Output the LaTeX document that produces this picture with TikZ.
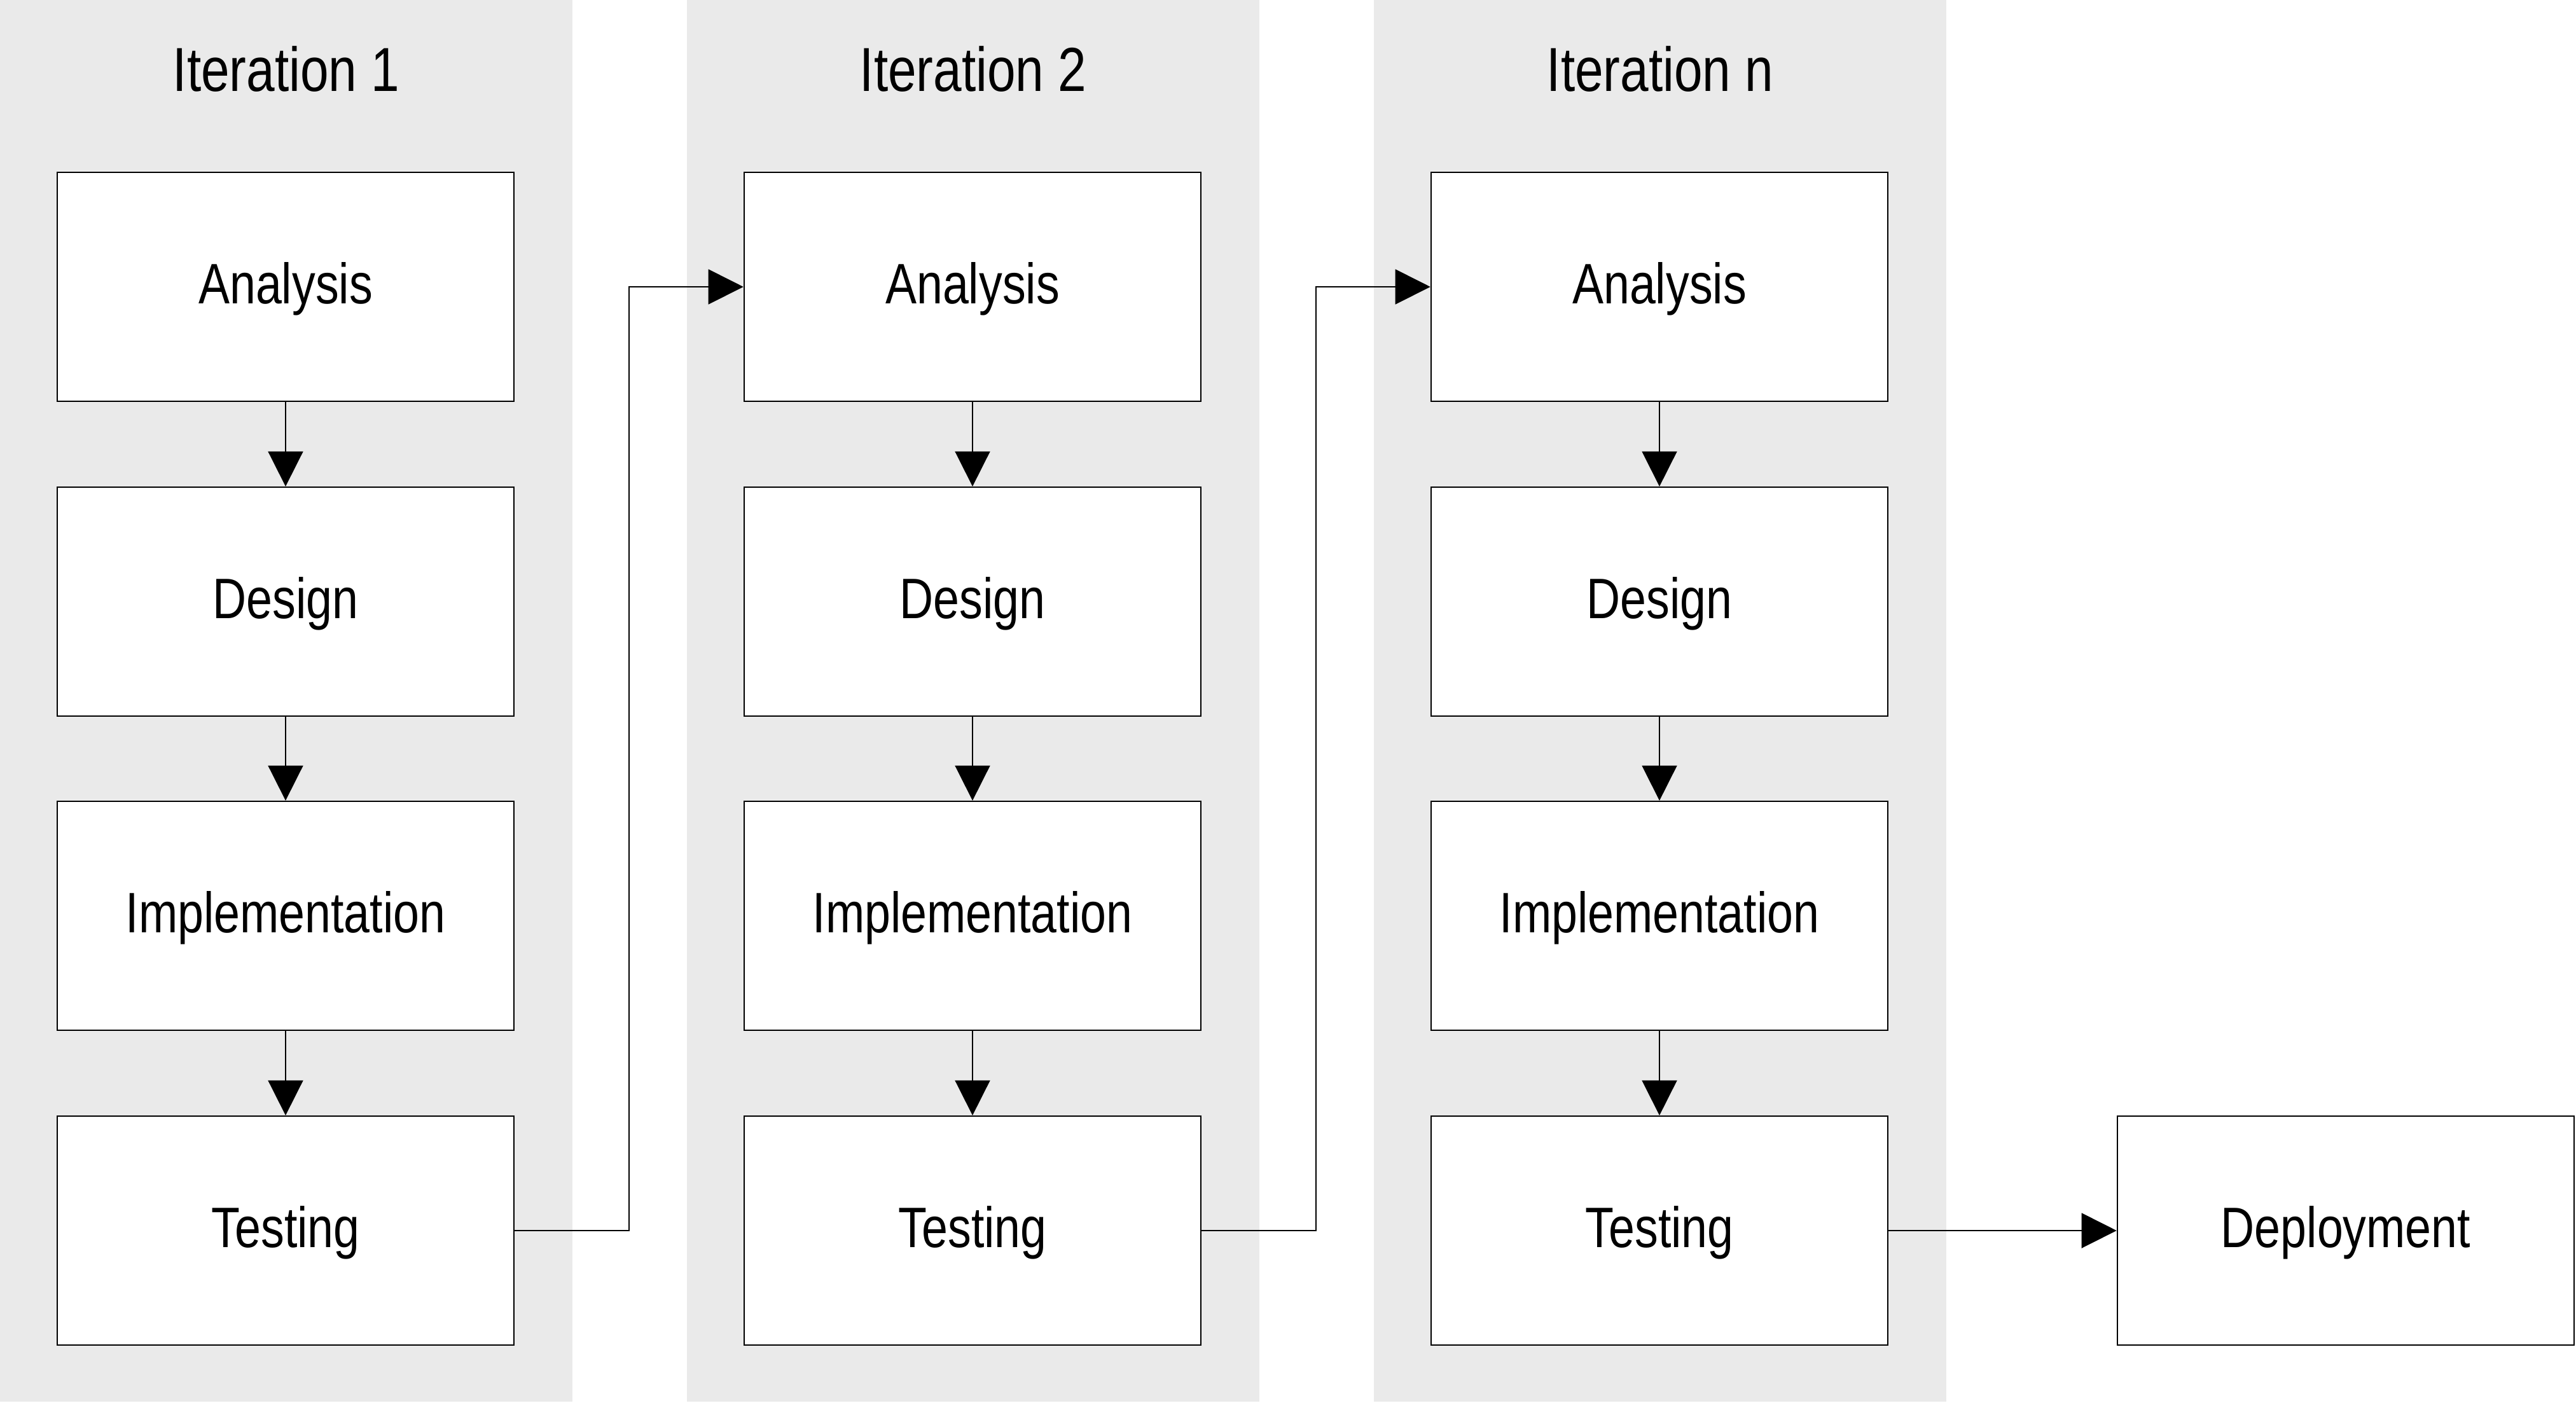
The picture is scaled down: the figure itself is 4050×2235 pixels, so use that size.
\documentclass[tikz,border=0pt]{standalone}
\usepackage{fontspec}
\setmainfont{Liberation Sans}[FakeStretch=0.82]
\usetikzlibrary{arrows.meta}
\definecolor{panelgray}{RGB}{234,234,234}
\tikzset{
  panel/.style={fill=panelgray, draw=none},
  stage/.style={draw=black, line width=0.6pt, fill=white, rectangle,
    minimum width=7.18cm, minimum height=3.6cm, inner sep=0pt,
    text height=0.7cm, text depth=0.166cm,
    font=\fontsize{25.5}{30}\selectfont},
  title/.style={anchor=base, inner sep=0pt, font=\fontsize{27.8}{32}\selectfont},
  arr/.style={line width=0.5pt, -{Triangle[length=0.55cm, width=0.55cm]}}
}
\begin{document}
\begin{tikzpicture}[x=0.01cm, y=-0.01cm]
\useasboundingbox (0,0) rectangle (4050,2235);
% panels
\fill[panel] (0,0) rectangle (900,2204);
\fill[panel] (1080,0) rectangle (1980,2204);
\fill[panel] (2160,0) rectangle (3060,2204);
% titles
\node[title] (h1) at (450,143) {Iteration 1};
\node[title] (h2) at (1530,143) {Iteration 2};
\node[title] (h3) at (2610,143) {Iteration n};
% iteration 1
\node[stage] (a1) at (449,451) {Analysis};
\node[stage] (d1) at (449,946) {Design};
\node[stage] (i1) at (449,1440) {Implementation};
\node[stage] (t1) at (449,1935) {Testing};
% iteration 2
\node[stage] (a2) at (1529,451) {Analysis};
\node[stage] (d2) at (1529,946) {Design};
\node[stage] (i2) at (1529,1440) {Implementation};
\node[stage] (t2) at (1529,1935) {Testing};
% iteration n
\node[stage] (a3) at (2609,451) {Analysis};
\node[stage] (d3) at (2609,946) {Design};
\node[stage] (i3) at (2609,1440) {Implementation};
\node[stage] (t3) at (2609,1935) {Testing};
% deployment
\node[stage] (dep) at (3688,1935) {Deployment};
% vertical arrows
\foreach \k in {1,2,3}{
  \draw[arr] (a\k) -- (d\k);
  \draw[arr] (d\k) -- (i\k);
  \draw[arr] (i\k) -- (t\k);
}
% connectors between iterations
\draw[arr] (t1.east) -- ++(180,0) |- (a2.west);
\draw[arr] (t2.east) -- ++(180,0) |- (a3.west);
\draw[arr] (t3.east) -- (dep.west);
\end{tikzpicture}
\end{document}
